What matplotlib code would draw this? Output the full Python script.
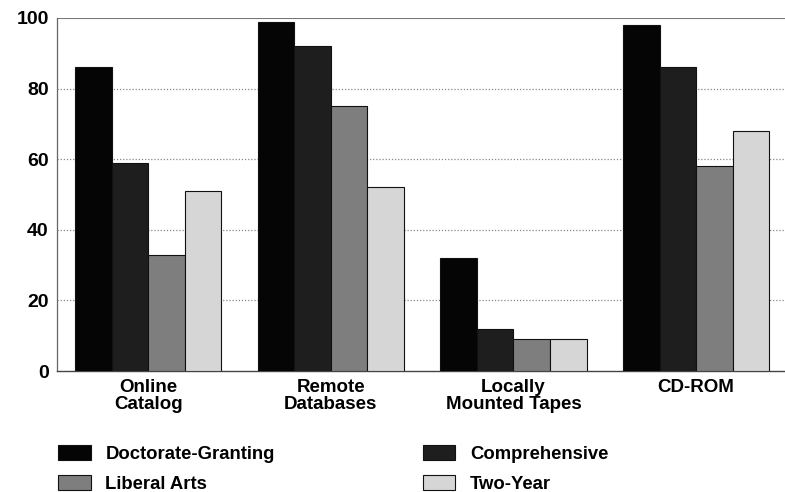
import matplotlib
matplotlib.use("Agg")
import matplotlib.pyplot as plt
import numpy as np
from matplotlib.patches import Patch

categories = ["Online\nCatalog", "Remote\nDatabases", "Locally\nMounted Tapes", "CD-ROM"]
series_names = ["Doctorate-Granting", "Comprehensive", "Liberal Arts", "Two-Year"]
doctorate = [86, 99, 32, 98]
comprehensive = [59, 92, 12, 86]
liberal_arts = [33, 75, 9, 58]
two_year = [51, 52, 9, 68]
yticks = [0, 20, 40, 60, 80, 100]

colors = ["#050505", "#1e1e1e", "#7e7e7e", "#d6d6d6"]
plt.rcParams['font.family'] = ['Liberation Sans', 'DejaVu Sans']

fig = plt.figure(figsize=(7.85, 4.92), dpi=100)
ax = fig.add_axes([57/785, 1-371/492, 1-57/785+0.003, (371-18)/492])

x = np.arange(len(categories))
w = 0.2
data = [doctorate, comprehensive, liberal_arts, two_year]
for i, (vals, c) in enumerate(zip(data, colors)):
    ax.bar(x - 0.3 + i*w, vals, width=w, color=c, edgecolor="#111111",
           linewidth=0.8, zorder=3, label=series_names[i])

ax.set_xlim(-0.5, 3.5)
ax.set_ylim(0, 100)
ax.set_yticks(yticks)
ax.set_yticklabels([str(t) for t in yticks], fontsize=14, fontweight='bold')
ax.set_xticks(x)
ax.set_xticklabels(categories, fontsize=13.5, fontweight='bold', linespacing=0.95)
ax.tick_params(axis='x', length=0, pad=6)
ax.tick_params(axis='y', length=0, pad=6)
for t in [20, 40, 60, 80]:
    ax.axhline(t, color="#888888", linestyle=(0, (1, 1.5)), linewidth=0.9, zorder=1)
ax.axhline(100, color="#777777", linewidth=1.5, zorder=2)
for s in ["top", "right"]:
    ax.spines[s].set_visible(False)
ax.spines["left"].set_color("#666666")
ax.spines["left"].set_linewidth(0.9)
ax.spines["bottom"].set_color("#444444")
ax.spines["bottom"].set_linewidth(1.0)

handles = [Patch(facecolor=c, edgecolor="#111111", linewidth=0.8) for c in colors]
order = [0, 2, 1, 3]
fig.legend([handles[i] for i in order], [series_names[i] for i in order],
           loc="upper left", bbox_to_anchor=(43/785, 1-430/492), ncol=2,
           frameon=False, prop={'size': 13.3, 'weight': 'bold'},
           handlelength=1.78, handleheight=0.85, handletextpad=0.8,
           columnspacing=8.0, labelspacing=0.7, borderpad=0.3)

fig.savefig("out.png", dpi=100)
